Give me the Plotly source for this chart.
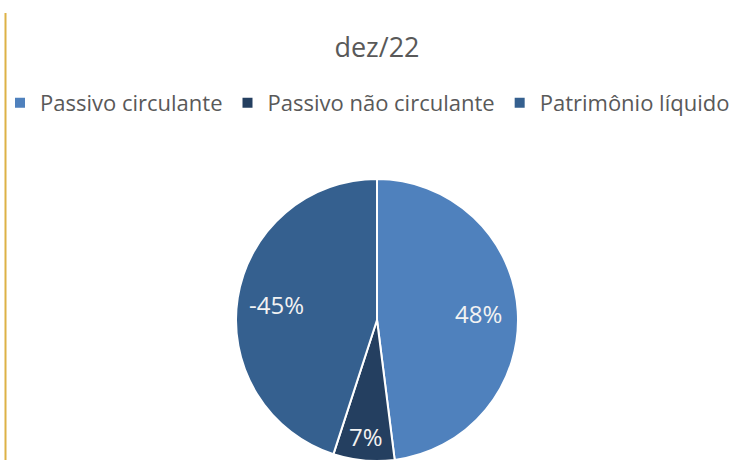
import math
import plotly.graph_objects as go

title = "dez/22"
labels = ["Passivo circulante", "Passivo não circulante", "Patrimônio líquido"]
values = [48, 7, -45]
colors = ["#4F81BD", "#243F60", "#35608F"]

W, H = 747, 461
ML, MR, MT, MB = 7, 0, 179, 0
pw, ph = W - ML - MR, H - MT - MB

sizes = [abs(v) for v in values]
texts = [f"{v}%" for v in values]

fig = go.Figure(go.Pie(
    labels=labels,
    values=sizes,
    text=texts,
    textinfo="none",
    sort=False,
    direction="clockwise",
    rotation=0,
    marker=dict(colors=colors, line=dict(color="white", width=2)),
    hoverinfo="label+text",
))

# data labels placed along each slice's bisector (derived from values)
total = sum(sizes)
r_px = min(pw, ph) / 2
start = 0.0
for s, t in zip(sizes, texts):
    frac = s / total
    mid = math.radians((start + frac / 2) * 360)
    k = 0.72 if frac > 0.15 else 0.83
    fig.add_annotation(
        xref="paper", yref="paper",
        x=0.5 + k * r_px * math.sin(mid) / pw,
        y=0.5 + k * r_px * math.cos(mid) / ph,
        text=t, showarrow=False, xanchor="center", yanchor="middle",
        font=dict(family="Open Sans", size=24, color="#F2F2F2"),
    )
    start += frac

fig.add_shape(type="line", xref="paper", yref="paper",
              x0=(5.5 - ML) / pw, x1=(5.5 - ML) / pw,
              y0=(H - MB - 460) / ph, y1=(H - MB - 13) / ph,
              line=dict(color="#DDB246", width=2))

fig.update_layout(
    width=W, height=H,
    margin=dict(l=ML, r=MR, t=MT, b=MB),
    paper_bgcolor="white", plot_bgcolor="white",
    title=dict(text=title, x=377 / W, xanchor="center", xref="container",
               y=1 - 48 / H, yanchor="middle", yref="container",
               font=dict(family="Open Sans", size=27, color="#595959")),
    legend=dict(orientation="h", xref="container", yref="container",
                x=0.0, xanchor="left", y=1 - 103 / H, yanchor="middle",
                bgcolor="rgba(0,0,0,0)",
                font=dict(family="Open Sans", size=22, color="#595959"),
                itemwidth=30, traceorder="normal"),
    showlegend=True,
)

fig.write_html("out.html", config={"displayModeBar": False},
               post_script="document.body.style.margin='0';document.body.style.overflow='hidden';")
